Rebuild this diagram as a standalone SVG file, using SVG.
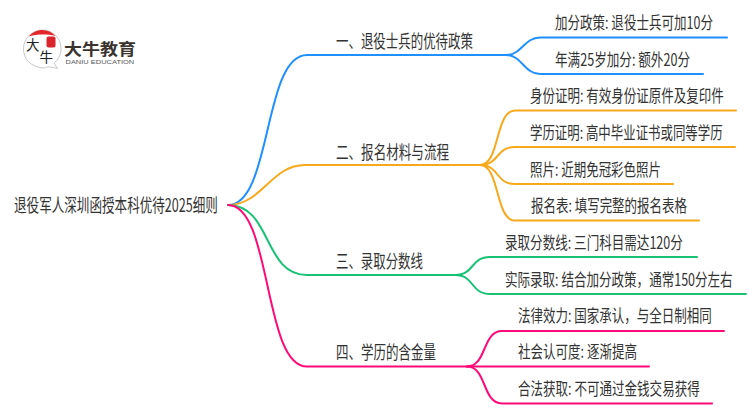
<svg xmlns="http://www.w3.org/2000/svg" width="750" height="410" viewBox="0 0 750 410">
<style>
text{font-family:"Noto Sans CJK SC","Liberation Sans",sans-serif;fill:#333;font-size:17px}
.h{font-size:18px}
.c{fill:none;stroke-width:2;stroke-linecap:round}
.b{stroke:#1e90ff}.o{stroke:#f7a81b}.g{stroke:#17c273}.p{stroke:#ff0a78}
.lg{font-size:16px;fill:#3a3330;font-weight:700}
.le{font-size:6px;fill:#555;font-family:"Liberation Sans",sans-serif}
.lb{font-size:13.500px;fill:#222}
</style>
<rect width="750" height="410" fill="#fff"/>
<g id="connectors">
<path class="c b" d="M228 205C272 205 263 55 307 55H500"/>
<path class="c o" d="M228 205C262 205 271 165 305 165H480"/>
<path class="c g" d="M228 205C272 205 263 275 307 275H455"/>
<path class="c p" d="M228 205C272 205 263 366.500 307 366.500H467"/>
<path class="c b" d="M500 55H506C522 55 524 37.500 540 37.500H727"/>
<path class="c b" d="M500 55H506C522 55 524 74 540 74H703"/>
<path class="c o" d="M480 165C500 165 495 110.500 515 110.500H736"/>
<path class="c o" d="M480 165C500 165 495 147 515 147H735"/>
<path class="c o" d="M480 165C500 165 495 184 515 184H673"/>
<path class="c o" d="M480 165C500 165 495 220.500 515 220.500H699"/>
<path class="c g" d="M455 275C475 275 470 257 490 257H697"/>
<path class="c g" d="M455 275C475 275 470 294 490 294H746"/>
<path class="c p" d="M467 366.500C487 366.500 482 331 502 331H724"/>
<path class="c p" d="M467 366.500H649"/>
<path class="c p" d="M467 366.500C487 366.500 482 403.500 502 403.500H712"/>
</g>
<g id="root"><text class="h" transform="translate(14 212) scale(.699 1)">退役军人深圳函授本科优待2025细则</text></g>
<g id="n1"><text class="h" transform="translate(336 48) scale(.692 1)">一、退役士兵的优待政策</text></g>
<g id="n2"><text class="h" transform="translate(336 158.500) scale(.698 1)">二、报名材料与流程</text></g>
<g id="n3"><text class="h" transform="translate(336 267.500) scale(.69 1)">三、录取分数线</text></g>
<g id="n4"><text class="h" transform="translate(336 358.500) scale(.694 1)">四、学历的含金量</text></g>
<g id="n1-1"><text transform="translate(555 29) scale(.737 1)">加分政策: 退役士兵可加10分</text></g>
<g id="n1-2"><text transform="translate(555 66) scale(.741 1)">年满25岁加分: 额外20分</text></g>
<g id="n2-1"><text transform="translate(530 102) scale(.736 1)">身份证明: 有效身份证原件及复印件</text></g>
<g id="n2-2"><text transform="translate(530 139) scale(.732 1)">学历证明: 高中毕业证书或同等学历</text></g>
<g id="n2-3"><text transform="translate(530 176) scale(.734 1)">照片: 近期免冠彩色照片</text></g>
<g id="n2-4"><text transform="translate(531 212) scale(.734 1)">报名表: 填写完整的报名表格</text></g>
<g id="n3-1"><text transform="translate(505 249) scale(.739 1)">录取分数线: 三门科目需达120分</text></g>
<g id="n3-2"><text transform="translate(505 286) scale(.738 1)">实际录取: 结合加分政策，通常150分左右</text></g>
<g id="n4-1"><text transform="translate(518 322) scale(.736 1)">法律效力: 国家承认，与全日制相同</text></g>
<g id="n4-2"><text transform="translate(518 358) scale(.737 1)">社会认可度: 逐渐提高</text></g>
<g id="n4-3"><text transform="translate(518 395) scale(.738 1)">合法获取: 不可通过金钱交易获得</text></g>
<g id="logo">
<path d="M43 68C31 67 23.500 59 23.500 49C23.500 38 32 30 42.500 30C53 30 61 38 61 49C61 55 58 60 54 63L57.500 68.500C53 67.500 49 66.500 47 67C46 67.500 45 68 43 68Z" fill="#fff" stroke="#c9c9c9" stroke-width="1"/>
<path d="M29 36.500C32 32.500 37 30 42.500 30C47.500 30 52 32 55.500 36C47 34 37 34 29 36.500Z" fill="#e3262b"/>
<rect x="46.500" y="36.500" width="9" height="11" rx="2" fill="#d9252b"/>
<text class="lb" x="26" y="50">大<tspan dx="0" dy="12">牛</tspan></text>
<text class="lg" transform="translate(64 55) scale(1.125 1)">大牛教育</text>
<text class="le" transform="translate(65.500 63.500) scale(1.248 1)">DANIU EDUCATION</text>
</g>
</svg>
